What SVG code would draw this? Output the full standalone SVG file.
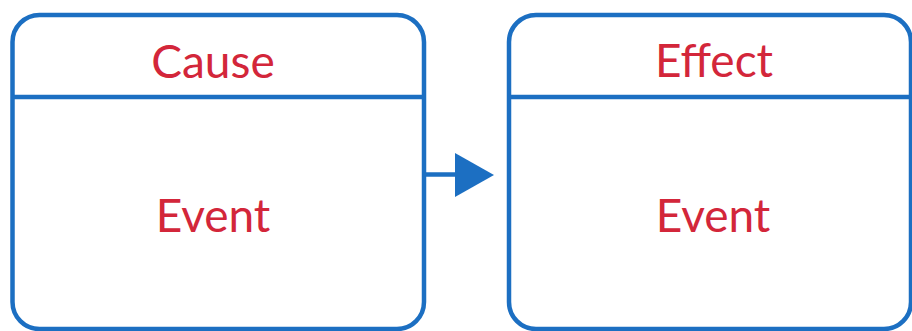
<svg xmlns="http://www.w3.org/2000/svg" width="912" height="331" viewBox="0 0 912 331">
<style>
.box{fill:#fff;stroke:#1c6fc2;stroke-width:4.5}
.div{stroke:#1c6fc2;stroke-width:4.5}
.t{font-family:Lato,"Liberation Sans",sans-serif;font-size:46px;fill:#d3263a;text-anchor:middle}
.conn{stroke:#1c6fc2;stroke-width:4.5;fill:none}
</style>
<rect width="912" height="331" fill="#fff"/>
<g id="cause">
<rect class="box" x="12.5" y="15" width="411.5" height="314" rx="27"/>
<line class="div" x1="12.5" y1="97" x2="424" y2="97"/>
<text class="t" x="213" y="78">Cause</text>
<text class="t" x="213" y="232">Event</text>
</g>
<g id="effect">
<rect class="box" x="509" y="15" width="402" height="314" rx="27"/>
<line class="div" x1="509" y1="97" x2="911" y2="97"/>
<text class="t" x="714" y="77">Effect</text>
<text class="t" x="713" y="232">Event</text>
</g>
<g id="connectors">
<line class="conn" x1="424" y1="174.5" x2="458" y2="174.5"/>
<polygon points="455,153 494,175 455,197" fill="#1c6fc2"/>
</g>
</svg>
